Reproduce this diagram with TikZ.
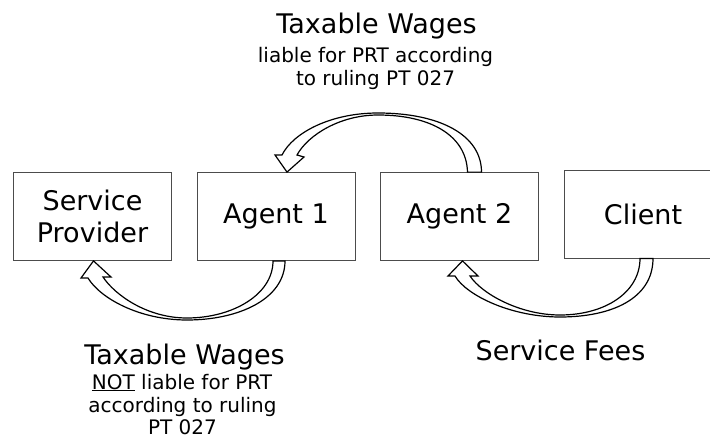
\documentclass[tikz,border=0pt]{standalone}
\usepackage{fontspec}
\setmainfont{DejaVu Sans}

\begin{document}
\begin{tikzpicture}[x=1pt,y=-1pt,
  party/.style={draw=black!70,line width=0.8pt,minimum width=158pt,minimum height=88pt,
    inner sep=0pt,align=center,font=\fontsize{27}{32}\selectfont},
  big/.style={anchor=base,font=\fontsize{27}{32}\selectfont},
  small/.style={anchor=base,font=\fontsize{20}{24}\selectfont},
  flow/.style={draw=black,line width=1.2pt,fill=white,line join=miter}]
\useasboundingbox (0,0) rectangle (710,439);
\node [party] (sp) at (92.5,216.5) {Service\\Provider};
\node [party] (a1) at (276,216.5) {Agent 1};
\node [party] (a2) at (459.5,216.5) {Agent 2};
\node [party] (cl) at (643,214) {Client};
\node [big] (w1) at (376.5,34) {Taxable Wages};
\node [small] (l1) at (375.5,62) {liable for PRT according};
\node [small] (l2) at (375.5,85) {to ruling PT 027};
\node [big] (w2) at (184.5,364) {Taxable Wages};
\node [small] (n1) at (182,389) {\underline{NOT} liable for PRT};
\node [small] (n2) at (182.5,412) {according to ruling};
\node [small] (n3) at (182.5,434) {PT 027};
\node [big] (fees) at (560.5,360) {Service Fees};
\draw [flow] ([xshift=8pt]a2.north) -- ([xshift=22pt]a2.north)
  .. controls +(0,-37) and +(62,0) .. (378,113)
  .. controls +(-48,0) and +(11,-22) .. (282,155)
  -- (275,155) -- ([xshift=11pt]a1.north) -- (304,157) -- (297,155)
  .. controls +(11,-20) and +(-38,0) .. (378,115)
  .. controls +(52,0) and +(-1,-37) .. ([xshift=8pt]a2.north) -- cycle;
\draw [flow] ([xshift=-3pt]a1.south) -- ([xshift=9pt]a1.south)
  .. controls +(0,38) and +(52,0) .. (187,320)
  .. controls +(-48,0) and +(12,20) .. (88,278)
  -- (81,278) -- ([xshift=1pt]sp.south) -- (111,277) -- (103,277)
  .. controls +(12,18) and +(-40,0) .. (187,318)
  .. controls +(45,0) and +(0,34) .. ([xshift=-3pt]a1.south) -- cycle;
\draw [flow] ([xshift=-3pt]cl.south) -- ([xshift=10pt]cl.south)
  .. controls +(0,40) and +(52,0) .. (560,317)
  .. controls +(-48,0) and +(12,20) .. (455,276)
  -- (448,276) -- ([xshift=3pt]a2.south) -- (478,276) -- (470,276)
  .. controls +(12,18) and +(-40,0) .. (560,315)
  .. controls +(45,0) and +(0,34) .. ([xshift=-3pt]cl.south) -- cycle;
\end{tikzpicture}
\end{document}
